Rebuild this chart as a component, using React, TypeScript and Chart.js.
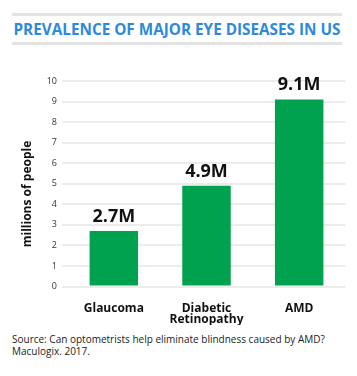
import React, { useEffect, useRef } from "react";
import { Chart, registerables } from "chart.js";

Chart.register(...registerables);

const TITLE = "PREVALENCE OF MAJOR EYE DISEASES IN US";
const categories: (string | string[])[] = ["Glaucoma", ["Diabetic", "Retinopathy"], "AMD"];
const values = [2.7, 4.9, 9.1];
const valueLabels = ["2.7M", "4.9M", "9.1M"];
const yAxisTitle = "millions of people";
const yMin = 0;
const yMax = 10;
const yStep = 1;
const sourceLines = [
  "Source: Can optometrists help eliminate blindness caused by AMD?",
  "Maculogix. 2017.",
];

const FONT = "'Open Sans', 'Noto Sans', sans-serif";
const BAR = "#00a14f";

export default function App() {
  const ref = useRef<HTMLCanvasElement | null>(null);

  useEffect(() => {
    if (!ref.current) return;
    const valueLabelPlugin = {
      id: "valueLabels",
      afterDatasetsDraw(chart: any) {
        const ctx = chart.ctx;
        const meta = chart.getDatasetMeta(0);
        ctx.save();
        ctx.font = `bold 18px ${FONT}`;
        ctx.fillStyle = "#111";
        ctx.textAlign = "center";
        ctx.textBaseline = "alphabetic";
        meta.data.forEach((bar: any, i: number) => {
          ctx.fillText(valueLabels[i], bar.x, bar.y - 9);
        });
        ctx.restore();
      },
    };
    const yTitlePlugin = {
      id: "yTitle",
      afterDraw(chart: any) {
        const ctx = chart.ctx;
        ctx.save();
        ctx.translate(28, 144);
        ctx.rotate(-Math.PI / 2);
        ctx.font = `bold 12px ${FONT}`;
        ctx.fillStyle = "#111";
        ctx.textAlign = "center";
        ctx.textBaseline = "middle";
        ctx.fillText(yAxisTitle, 0, 0);
        ctx.restore();
      },
    };
    const chart = new Chart(ref.current, {
      type: "bar",
      data: {
        labels: categories,
        datasets: [
          {
            data: values,
            backgroundColor: BAR,
            borderWidth: 0,
            categoryPercentage: 1,
            barPercentage: 0.523,
          },
        ],
      },
      options: {
        responsive: false,
        animation: false,
        layout: { padding: { left: 0, right: 11.5, top: 31, bottom: 0 } },
        plugins: { legend: { display: false }, tooltip: { enabled: false } },
        scales: {
          x: {
            grid: { display: false },
            border: { display: false },
            ticks: {
              color: "#111",
              padding: 8,
              maxRotation: 0,
              autoSkip: false,
              font: { family: FONT, size: 12, weight: "bold", lineHeight: 0.95 },
            },
            afterFit(scale: any) {
              scale.height = 38.5;
            },
          },
          y: {
            min: yMin,
            max: yMax,
            grid: { color: "#ececec", lineWidth: 2, tickLength: 5.5 },
            border: { display: false },
            ticks: {
              stepSize: yStep,
              color: "#333",
              padding: 5,
              font: { family: FONT, size: 9 },
            },
            afterFit(scale: any) {
              scale.width = 67.5;
            },
          },
        },
      },
      plugins: [valueLabelPlugin, yTitlePlugin],
    });
    return () => chart.destroy();
  }, []);

  return (
    <div style={{ position: "absolute", left: 0, top: 0, width: 357, height: 376, background: "#fff", fontFamily: FONT }}>
      <div
        style={{
          position: "absolute",
          left: 12,
          top: 13,
          width: 330,
          height: 26,
          borderTop: "3px solid #e3e3e3",
          borderBottom: "3px solid #e3e3e3",
          display: "flex",
          alignItems: "center",
          justifyContent: "center",
          color: "#2d89dc",
          fontWeight: 700,
          fontSize: 15.3,
          whiteSpace: "nowrap",
        }}
      >
        {TITLE}
      </div>
      <canvas ref={ref} width={357} height={275} style={{ position: "absolute", left: 0, top: 50, width: 357, height: 275 }} />
      <div style={{ position: "absolute", left: 12, top: 333, fontSize: 10, lineHeight: "12px", color: "#222" }}>
        {sourceLines.map((l, i) => (
          <div key={i}>{l}</div>
        ))}
      </div>
    </div>
  );
}
